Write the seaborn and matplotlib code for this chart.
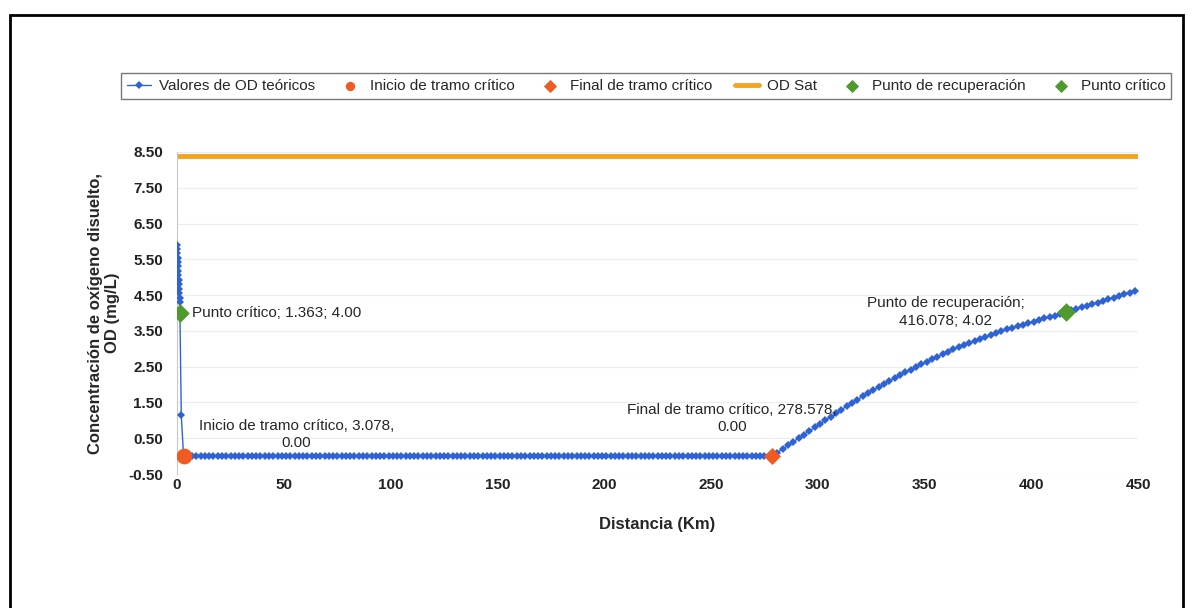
import numpy as np
import pandas as pd
import matplotlib
matplotlib.use("Agg")
import matplotlib.pyplot as plt
import seaborn as sns
from matplotlib.patches import Rectangle

# --- Perfil de oxígeno disuelto (OD) a lo largo del río ---
# Tramo inmediato a la descarga (km 0 a 3.078)
km_descarga = [0.0, 0.1, 0.2, 0.3, 0.4, 0.5, 0.6, 0.7, 0.8, 0.9, 1.0, 1.1, 1.2, 1.3,
               1.363, 2.0, 3.078]
od_descarga = [5.90, 5.80, 5.68, 5.55, 5.42, 5.30, 5.18, 5.05, 4.92, 4.80, 4.68, 4.55,
               4.43, 4.30, 4.00, 1.15, 0.00]

# Tramo crítico (OD = 0) entre 3.078 km y 278.578 km
paso_critico_km = 2.0
km_inicio_critico = 3.078
km_final_critico = 278.578
od_tramo_critico = 0.00

# Recuperación desde 278.578 km, cada 2.5 km
paso_recup_km = 2.5
od_recuperacion = [0.00, 0.10, 0.20, 0.30, 0.40, 0.50, 0.60, 0.70, 0.80, 0.90,
                   1.00, 1.10, 1.20, 1.30, 1.39, 1.48, 1.58, 1.67, 1.76, 1.85,
                   1.93, 2.02, 2.10, 2.18, 2.26, 2.34, 2.42, 2.49, 2.57, 2.64,
                   2.71, 2.78, 2.85, 2.91, 2.98, 3.04, 3.10, 3.16, 3.22, 3.28,
                   3.33, 3.38, 3.44, 3.49, 3.54, 3.58, 3.63, 3.67, 3.71, 3.76,
                   3.80, 3.85, 3.89, 3.93, 3.98, 4.02, 4.07, 4.11, 4.16, 4.20,
                   4.25, 4.29, 4.34, 4.39, 4.43, 4.48, 4.53, 4.57, 4.62]

# OD de saturación
km_sat = [0, 450]
od_sat = [8.38, 8.38]

# Puntos notables
punto_critico = (1.363, 4.00)
inicio_critico = (3.078, 0.00)
final_critico = (278.578, 0.00)
punto_recuperacion = (416.078, 4.02)

y_ticks = [-0.50, 0.50, 1.50, 2.50, 3.50, 4.50, 5.50, 6.50, 7.50, 8.50]
x_ticks = [0, 50, 100, 150, 200, 250, 300, 350, 400, 450]

# --- Serie completa ---
km_critico = list(np.arange(km_inicio_critico + paso_critico_km,
                            km_final_critico - 1.0, paso_critico_km))
km_recup = [km_final_critico + paso_recup_km * i for i in range(len(od_recuperacion))]
km_total = km_descarga + km_critico + km_recup
od_total = od_descarga + [od_tramo_critico] * len(km_critico) + od_recuperacion
perfil = pd.DataFrame({"km": km_total, "od": od_total})

azul = "#2f63d3"
naranja = "#f15a22"
naranja_sat = "#f5a41f"
verde = "#4e9a2c"

sns.set_theme(style="white")
plt.rcParams["font.family"] = ["Liberation Sans", "DejaVu Sans"]

W, H = 1194, 608
fig = plt.figure(figsize=(W / 100, H / 100), dpi=100)
ax = fig.add_axes([177 / W, 1 - 474 / H, (1138 - 177) / W, (474 - 152) / H])

sns.lineplot(data=perfil, x="km", y="od", sort=False, estimator=None, ax=ax,
             color=azul, linewidth=1.0, marker="D", markersize=4.0,
             markeredgewidth=0, label="Valores de OD teóricos", zorder=3)
sns.scatterplot(x=[inicio_critico[0]], y=[inicio_critico[1]], ax=ax, color=naranja,
                marker="o", s=130, linewidth=0, label="Inicio de tramo crítico", zorder=5)
sns.scatterplot(x=[final_critico[0]], y=[final_critico[1]], ax=ax, color=naranja,
                marker="D", s=75, linewidth=0, label="Final de tramo crítico", zorder=5)
sns.lineplot(x=km_sat, y=od_sat, ax=ax, color=naranja_sat, linewidth=3.5,
             label="OD Sat", zorder=2)
sns.scatterplot(x=[punto_recuperacion[0]], y=[punto_recuperacion[1]], ax=ax, color=verde,
                marker="D", s=90, linewidth=0, label="Punto de recuperación", zorder=5)
sns.scatterplot(x=[punto_critico[0]], y=[punto_critico[1]], ax=ax, color=verde,
                marker="D", s=90, linewidth=0, label="Punto crítico", zorder=5)

ax.set_xlim(0, 450)
ax.set_ylim(-0.5, 8.5)
ax.set_xticks(x_ticks)
ax.set_yticks(y_ticks)
ax.set_yticklabels([f"{v:.2f}" for v in y_ticks])
ax.tick_params(axis="both", labelsize=11, length=0, colors="#222222")
ax.tick_params(axis="y", pad=10)
ax.tick_params(axis="x", pad=3)
for t in ax.get_xticklabels() + ax.get_yticklabels():
    t.set_fontweight("bold")
ax.grid(axis="y", color="#ececec", linewidth=0.8)
for lado in ["top", "right", "bottom"]:
    ax.spines[lado].set_visible(False)
ax.spines["left"].set_color("#c8c8c8")
ax.spines["left"].set_linewidth(0.8)

ax.set_xlabel("Distancia (Km)", fontsize=12, fontweight="bold", labelpad=18)
ax.set_ylabel("Concentración de oxígeno disuelto,\nOD (mg/L)", fontsize=12,
              fontweight="bold", labelpad=6, linespacing=1.15)

# Etiquetas de los puntos notables
fs = 11
ax.annotate("Punto crítico; 1.363; 4.00", xy=punto_critico, xytext=(9, 0),
            textcoords="offset points", ha="left", va="center", fontsize=fs)
ax.text(56, 0.60, "Inicio de tramo crítico, 3.078,\n0.00", ha="center", va="center",
        fontsize=fs, multialignment="center", linespacing=1.3)
ax.text(260, 1.05, "Final de tramo crítico, 278.578,\n0.00", ha="center", va="center",
        fontsize=fs, multialignment="center", linespacing=1.3)
ax.text(360, 4.03, "Punto de recuperación;\n416.078; 4.02", ha="center", va="center",
        fontsize=fs, multialignment="center", linespacing=1.3)

handles, labels = ax.get_legend_handles_labels()
ax.legend_.remove()
leg = fig.legend(handles, labels, ncol=6, loc="center left",
                 bbox_to_anchor=(113 / W, 1 - 86 / H), fontsize=11,
                 frameon=True, fancybox=False, edgecolor="#555555",
                 handlelength=1.6, handletextpad=0.5, columnspacing=1.5,
                 borderpad=0.4)
leg.get_frame().set_linewidth(1.0)
for h in leg.legend_handles:
    if hasattr(h, "set_sizes"):
        h.set_sizes([45])

# Marco exterior
fig.add_artist(Rectangle((10 / W, -0.05), (1183 - 10) / W, (H - 15) / H + 0.05,
                         transform=fig.transFigure, fill=False, edgecolor="black",
                         linewidth=2))

fig.savefig("out.png", dpi=100)
